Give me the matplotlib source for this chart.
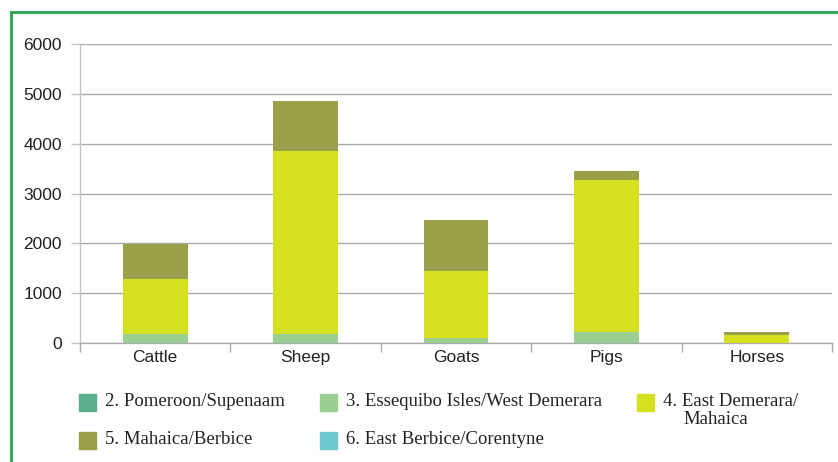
import matplotlib.pyplot as plt
from matplotlib.patches import Rectangle
import numpy as np

# livestock by region
categories = ['Cattle', 'Sheep', 'Goats', 'Pigs', 'Horses']
regions = ['2. Pomeroon/Supenaam', '3. Essequibo Isles/West Demerara',
           '4. East Demerara/\nMahaica', '5. Mahaica/Berbice',
           '6. East Berbice/Corentyne']
pomeroon = [0, 0, 0, 0, 0]
essequibo = [190, 190, 110, 225, 0]
east_demerara = [1100, 3660, 1340, 3050, 170]
mahaica = [700, 1000, 1020, 180, 55]
east_berbice = [0, 0, 0, 0, 0]
colors = ['#5aae8c', '#9bcf91', '#d5e021', '#9c9f4a', '#6ccacf']

W, H = 838, 462
fig = plt.figure(figsize=(W / 100, H / 100), dpi=100)
ax = fig.add_axes([80 / W, 1 - 343 / H, (832 - 80) / W, (343 - 44) / H])

x = np.arange(len(categories))
bottom = np.zeros(len(categories))
for vals, c in zip([pomeroon, essequibo, east_demerara, mahaica, east_berbice], colors):
    ax.bar(x, vals, width=0.43, bottom=bottom, color=c, zorder=3)
    bottom += np.array(vals)

ax.set_xlim(-0.5, len(categories) - 0.5)
ax.set_ylim(0, 6000)
ax.set_yticks(range(0, 6001, 1000))
ax.grid(axis='y', color='#aaaaaa', linewidth=1.0, zorder=0)
for s in ['top', 'right']:
    ax.spines[s].set_visible(False)
ax.spines['left'].set_color('#c4c4c4')
ax.spines['left'].set_linewidth(1.0)
ax.spines['bottom'].set_color('#aaaaaa')
ax.spines['bottom'].set_linewidth(1.0)

# category labels centred, ticks on the boundaries
ax.set_xticks(x)
ax.set_xticklabels(categories, fontfamily='Liberation Sans', fontsize=12.5, color='#222222')
ax.tick_params(axis='x', length=0, pad=5)
ax.set_xticks(np.arange(-0.5, len(categories)), minor=True)
ax.tick_params(axis='x', which='minor', length=6.5, color='#aaaaaa', width=1.0)
ax.tick_params(axis='y', length=6.5, color='#c4c4c4', width=1.0, pad=6.5,
               labelsize=12.5, labelcolor='#222222')
for t in ax.get_yticklabels():
    t.set_fontfamily('Liberation Sans')

# green frame
fig.patches.append(Rectangle((11 / W, -0.1), 1.2, 1 - 12.5 / H + 0.1,
                             transform=fig.transFigure, fill=False,
                             edgecolor='#2aa24c', linewidth=2.0))

# legend
legend_pos = [(79, 402), (320, 402), (637, 402), (79, 440), (320, 440)]
for (lx, ly), lab, c in zip(legend_pos, regions, colors):
    fig.patches.append(Rectangle((lx / W, 1 - (ly + 8.5) / H), 17 / W, 17 / H,
                                 transform=fig.transFigure, color=c))
    lines = lab.split('\n')
    fig.text((lx + 26) / W, 1 - ly / H, lines[0], fontfamily='Liberation Serif',
             fontsize=13.5, color='#222222', va='center')
    # wrapped line hangs under the text after the number
    for i, extra in enumerate(lines[1:], start=1):
        fig.text((lx + 46) / W, 1 - (ly + 18 * i) / H, extra, fontfamily='Liberation Serif',
                 fontsize=13.5, color='#222222', va='center')

fig.savefig('out.png', dpi=100)
